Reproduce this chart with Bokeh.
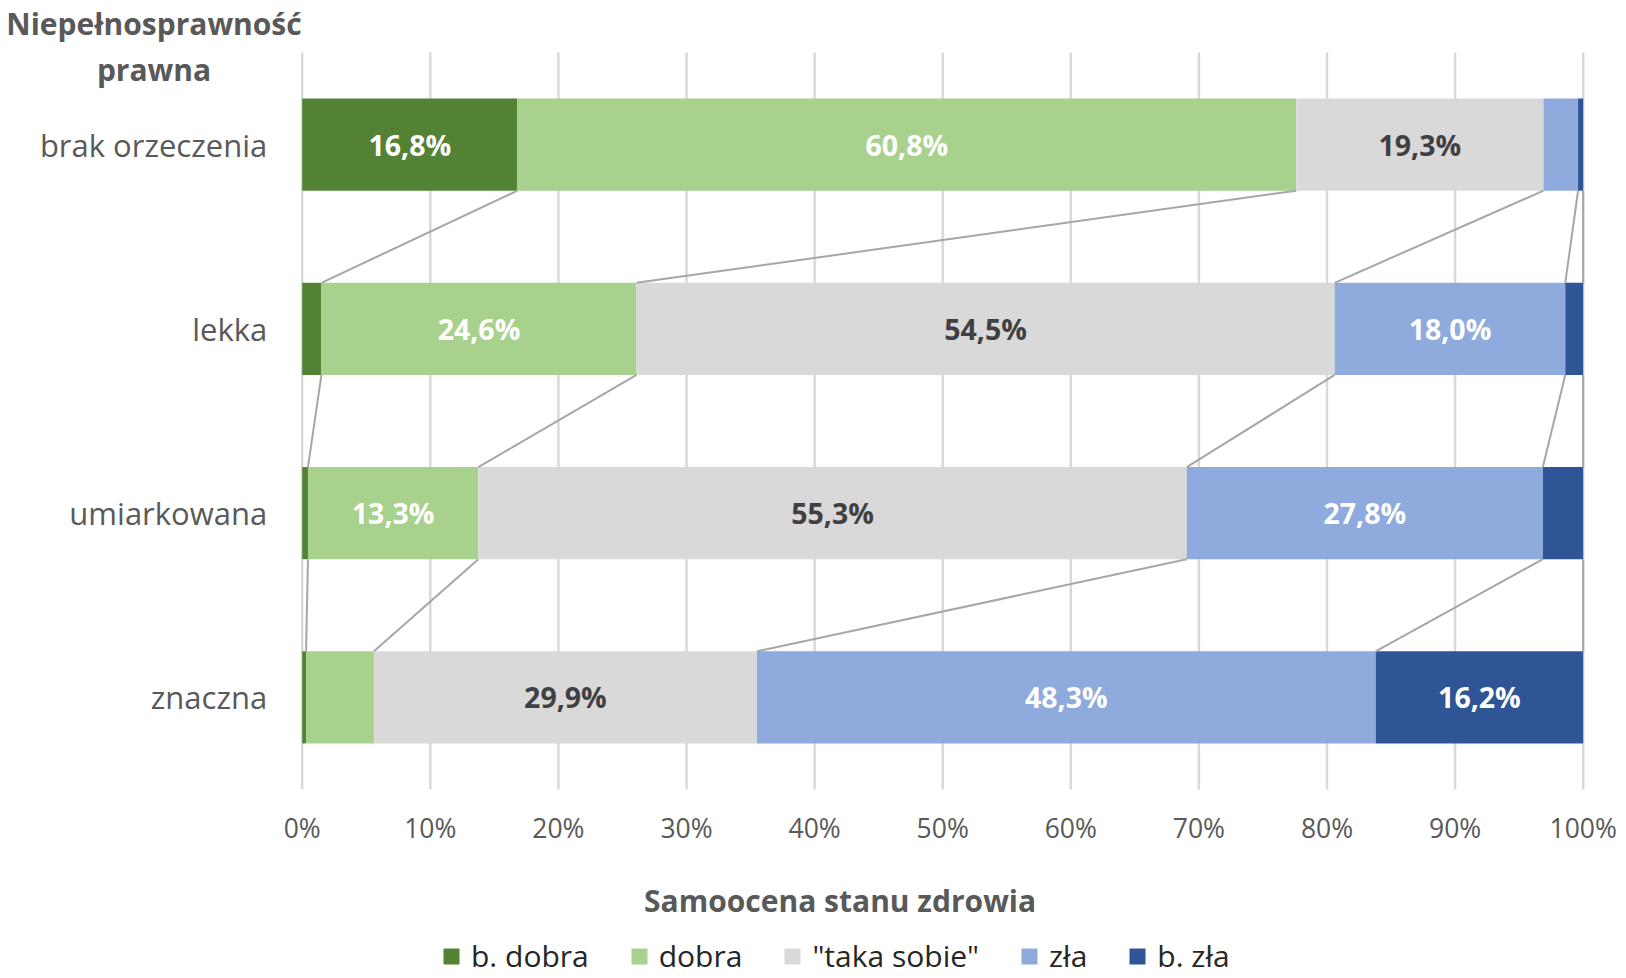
import numpy as np
from bokeh.plotting import figure
from bokeh.models import (ColumnDataSource, FixedTicker, Range1d, Label, Legend,
                          LegendItem, LinearAxis)
from bokeh.core.properties import value
from bokeh.embed import file_html
from bokeh.resources import INLINE

categories = ["brak orzeczenia", "lekka", "umiarkowana", "znaczna"]
series_names = ["b. dobra", "dobra", "\"taka sobie\"", "zła", "b. zła"]
b_dobra = [16.8, 1.5, 0.45, 0.3]
dobra = [60.8, 24.6, 13.3, 5.3]
taka_sobie = [19.3, 54.5, 55.3, 29.9]
zla = [2.7, 18.0, 27.8, 48.3]
b_zla = [0.4, 1.4, 3.15, 16.2]
series_values = [b_dobra, dobra, taka_sobie, zla, b_zla]
colors = ["#548235", "#A9D18E", "#D9D9D9", "#8FAADC", "#2F5597"]
label_colors = ["#FFFFFF", "#FFFFFF", "#404040", "#FFFFFF", "#FFFFFF"]
x_ticks = [0, 10, 20, 30, 40, 50, 60, 70, 80, 90, 100]
x_tick_labels = ["0%", "10%", "20%", "30%", "40%", "50%", "60%", "70%", "80%", "90%", "100%"]
y_title = ["Niepełnosprawność", "prawna"]
x_title = "Samoocena  stanu zdrowia"

FONT = "Open Sans"
GRAY_TEXT = "#595959"

# ---- layout (pixels on the canvas) ----
W, H = 1620, 976
PL, PR, PT, PB = 301.7, 1582.7, 52.0, 789.0   # plot area edges

n = len(categories)


def dx(px):
    return (px - PL) / (PR - PL) * 100.0


def dy(py):
    return (py - PT) / (PB - PT) * n


ys = np.arange(n) + 0.5
vals = np.array(series_values)          # shape (5, 4)
cum = np.cumsum(vals, axis=0)           # right edges
lefts = cum - vals

p = figure(width=W, height=H, output_backend="svg", toolbar_location=None,
           x_range=Range1d(dx(0), dx(W)), y_range=Range1d(dy(H), dy(0)),
           x_axis_location=None, y_axis_location=None,
           min_border=0, title=None)
p.outline_line_color = None
p.background_fill_color = "white"
p.border_fill_color = "white"
p.grid.visible = False

# vertical gridlines
p.segment(x0=x_ticks, y0=[0] * len(x_ticks), x1=x_ticks, y1=[n] * len(x_ticks),
          line_color="#D9D9D9", line_width=2.5)

# bars
bar_h = 0.5
items = []
for k, name in enumerate(series_names):
    src = ColumnDataSource(dict(y=ys, left=lefts[k], right=cum[k]))
    r = p.hbar(y="y", left="left", right="right", height=bar_h, source=src,
               fill_color=colors[k], line_color=None)
    items.append(LegendItem(label=name, renderers=[r]))

# series lines
x0s, y0s, x1s, y1s = [], [], [], []
for i in range(n - 1):
    for k in range(len(series_names)):
        x0s.append(cum[k][i]); y0s.append(ys[i] + bar_h / 2)
        x1s.append(cum[k][i + 1]); y1s.append(ys[i + 1] - bar_h / 2)
p.segment(x0=x0s, y0=y0s, x1=x1s, y1=y1s, line_color="#A6A6A6", line_width=2)

# data labels
lx, ly, lt, lc = [], [], [], []
for k in range(len(series_names)):
    for i in range(n):
        v = vals[k][i]
        if v >= 10:
            lx.append((lefts[k][i] + cum[k][i]) / 2)
            ly.append(ys[i])
            lt.append(f"{v:.1f}%".replace(".", ","))
            lc.append(label_colors[k])
p.text(x=lx, y=ly, text=lt, text_color=lc, text_align="center",
       text_baseline="middle", text_font=value(FONT), text_font_style="bold",
       text_font_size="28.5px")

# axes (fixed inside the canvas)
xaxis = LinearAxis(fixed_location=n, ticker=FixedTicker(ticks=x_ticks))
xaxis.major_label_overrides = {t: l for t, l in zip(x_ticks, x_tick_labels)}
xaxis.major_label_text_font_size = "26.5px"
xaxis.major_label_standoff = 20
yaxis = LinearAxis(fixed_location=0, ticker=FixedTicker(ticks=list(ys)))
yaxis.major_label_overrides = {float(y): c for y, c in zip(ys, categories)}
yaxis.major_label_text_font_size = "31px"
yaxis.major_label_standoff = 35
for ax in (xaxis, yaxis):
    ax.axis_line_color = None
    ax.major_tick_line_color = None
    ax.minor_tick_line_color = None
    ax.major_tick_out = 0
    ax.major_tick_in = 0
    ax.major_label_text_font = FONT
    ax.major_label_text_color = GRAY_TEXT
p.add_layout(xaxis, "below")
p.add_layout(yaxis, "left")

# titles
for txt, cy in zip(y_title, (23.0, 68.5)):
    p.add_layout(Label(x=dx(153.5), y=dy(cy), text=txt, text_align="center",
                       text_baseline="middle", text_font=FONT,
                       text_font_style="bold", text_font_size="30px",
                       text_color=GRAY_TEXT))
p.add_layout(Label(x=dx(843.5), y=dy(900.0), text=x_title, text_align="center",
                   text_baseline="middle", text_font=FONT, text_font_style="bold",
                   text_font_size="30px", text_color=GRAY_TEXT))

legend = Legend(items=items, orientation="horizontal", location=(441, 0),
                glyph_width=20, glyph_height=20, label_standoff=10, spacing=40,
                padding=0, margin=0, border_line_color=None,
                background_fill_alpha=0, label_text_font=FONT,
                label_text_font_size="30px", label_text_color="#262626")
p.add_layout(legend, "center")

open("out.html", "w").write(file_html(p, INLINE))
